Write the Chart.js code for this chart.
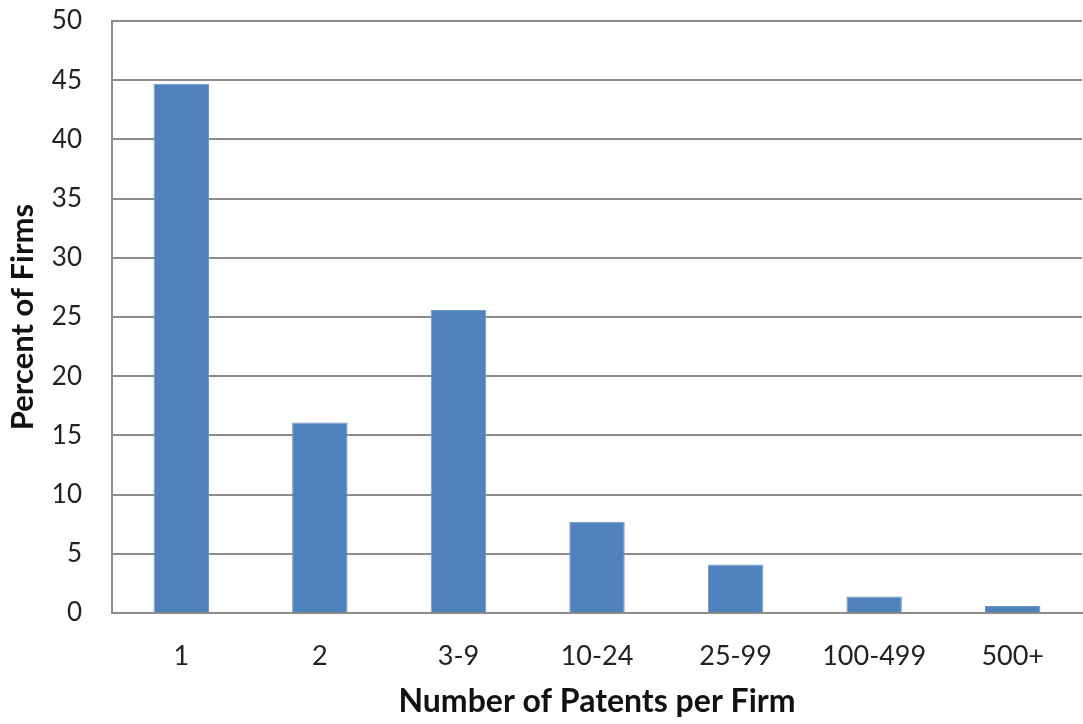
<!DOCTYPE html>
<html>
<head>
<meta charset="UTF-8">
<script src="https://cdn.jsdelivr.net/npm/chart.js@4"></script>
<style>
  html, body { margin:0; padding:0; background:#fff; }
  #wrap { width:1083px; height:724px; }
</style>
</head>
<body>
<div id="wrap"><canvas id="myChart" width="1083" height="724"></canvas></div>
<script>
const categories = ['1', '2', '3-9', '10-24', '25-99', '100-499', '500+'];
const percentFirms = [44.7, 16.1, 25.6, 7.7, 4.1, 1.4, 0.6];
const yTicks = [0, 5, 10, 15, 20, 25, 30, 35, 40, 45, 50];

const font = "Lato, 'Open Sans', sans-serif";
const gridCol = '#8c8c8c';

new Chart(document.getElementById('myChart').getContext('2d'), {
  type: 'bar',
  data: {
    labels: categories,
    datasets: [{
      data: percentFirms,
      backgroundColor: '#4f81bd',
      borderColor: '#6f97c9',
      borderWidth: 1,
      categoryPercentage: 1,
      barPercentage: 0.4
    }]
  },
  options: {
    responsive: false,
    animation: false,
    layout: { padding: { top: 21, right: 1, left: 4, bottom: 3 } },
    plugins: { legend: { display: false }, tooltip: { enabled: false } },
    scales: {
      x: {
        afterFit: ax => { ax.height = 108; },
        grid: { display: false, drawTicks: false },
        border: { color: gridCol, width: 2 },
        ticks: { color: '#222', font: { family: font, size: 27 }, padding: 27 },
        title: {
          display: true, text: 'Number of Patents per Firm', color: '#111',
          font: { family: font, size: 32, weight: 'bold' }, padding: 0
        }
      },
      y: {
        min: 0, max: 50,
        // fixed axis box so the plot area lines up with the original
        afterFit: ax => { ax.width = 108; ax.paddingTop = 0; },
        afterBuildTicks: ax => { ax.ticks = yTicks.map(v => ({ value: v })); },
        grid: { color: gridCol, lineWidth: 2, drawTicks: false },
        border: { color: gridCol, width: 2 },
        ticks: { color: '#222', font: { family: font, size: 26 }, padding: 30 },
        title: {
          display: true, text: 'Percent of Firms', color: '#111',
          font: { family: font, size: 31, weight: 'bold' }, padding: 0
        }
      }
    }
  }
});
</script>
</body>
</html>
